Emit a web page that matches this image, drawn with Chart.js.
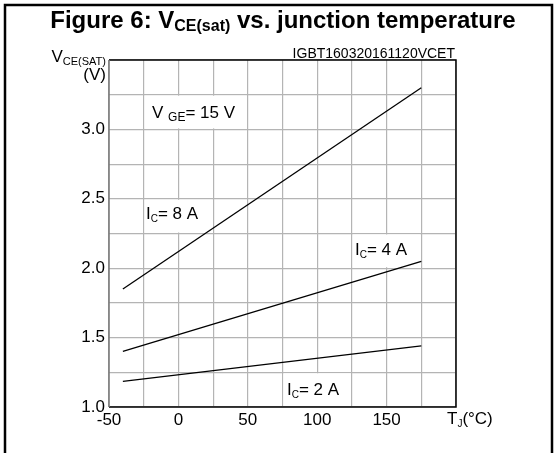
<!DOCTYPE html>
<html>
<head>
<meta charset="utf-8">
<script src="https://cdn.jsdelivr.net/npm/chart.js@4.4.1/dist/chart.umd.min.js"></script>
<style>
html,body{margin:0;padding:0;background:#fff;}
canvas{display:block;}
</style>
</head>
<body>
<canvas id="c" width="555" height="453"></canvas>
<script>
// Data
const tempC = [-40, 175];
const vceIc8A = [1.85, 3.30];
const vceIc4A = [1.40, 2.05];
const vceIc2A = [1.185, 1.44];
const xTickLabels = [-50, 0, 50, 100, 150];
const yTickLabels = [1.0, 1.5, 2.0, 2.5, 3.0];

const FONT = '"Liberation Sans", Arial, sans-serif';

function toPts(xs, ys){ return xs.map((x,i)=>({x:x, y:ys[i]})); }

function drawRich(ctx, x, y, parts, align){
  let w = 0;
  parts.forEach(p=>{ ctx.font = (p.bold?'bold ':'') + p.size + 'px ' + FONT; p.w = ctx.measureText(p.t).width; w += p.w; });
  let cx = align === 'right' ? x - w : (align === 'center' ? x - w/2 : x);
  ctx.textBaseline = 'alphabetic';
  ctx.textAlign = 'left';
  parts.forEach(p=>{
    ctx.font = (p.bold?'bold ':'') + p.size + 'px ' + FONT;
    ctx.fillText(p.t, cx, y + (p.dy||0));
    cx += p.w;
  });
}

const deco = {
  id: 'deco',
  beforeDraw(chart){
    const ctx = chart.ctx;
    ctx.save();
    ctx.fillStyle = '#fff';
    ctx.fillRect(0,0,chart.width,chart.height);
    ctx.restore();
  },
  beforeDatasetsDraw(chart){
    const ctx = chart.ctx, xs = chart.scales.x, ys = chart.scales.y;
    ctx.save();
    ctx.fillStyle = '#fff';
    const cells = [[-25,50,3.0,3.25],[-25,25,2.25,2.5],[125,175,2.0,2.25],[75,125,1.0,1.25]];
    cells.forEach(c=>{
      const x1 = xs.getPixelForValue(c[0]), x2 = xs.getPixelForValue(c[1]);
      const y1 = ys.getPixelForValue(c[3]), y2 = ys.getPixelForValue(c[2]);
      ctx.fillRect(x1+1, y1+1, x2-x1-2, y2-y1-2);
    });
    ctx.restore();
  },
  afterDraw(chart){
    const ctx = chart.ctx, a = chart.chartArea;
    ctx.save();
    // plot frame
    ctx.strokeStyle = '#000';
    ctx.lineWidth = 1.5;
    ctx.beginPath();
    ctx.moveTo(a.left, a.top); ctx.lineTo(a.right, a.top); ctx.lineTo(a.right, a.bottom); ctx.lineTo(a.left, a.bottom);
    ctx.stroke();
    ctx.strokeStyle = '#777';
    ctx.beginPath(); ctx.moveTo(a.left, a.top); ctx.lineTo(a.left, a.bottom); ctx.stroke();
    // outer frame
    ctx.strokeStyle = '#000';
    ctx.lineWidth = 2.5;
    ctx.beginPath();
    ctx.moveTo(5, 460); ctx.lineTo(5, 5); ctx.lineTo(552, 5); ctx.lineTo(552, 460);
    ctx.stroke();

    ctx.fillStyle = '#000';
    // title
    drawRich(ctx, 283, 28, [
      {t:'Figure 6: V', size:24, bold:true},
      {t:'CE(sat)', size:16, bold:true, dy:3},
      {t:' vs. junction temperature', size:24, bold:true}
    ], 'center');
    // figure id
    drawRich(ctx, 455, 58, [{t:'IGBT160320161120VCET', size:14}], 'right');
    // y axis title
    drawRich(ctx, 106, 62, [
      {t:'V', size:17},
      {t:'CE(SAT)', size:11, dy:3}
    ], 'right');
    drawRich(ctx, 106, 80, [{t:'(V)', size:17}], 'right');
    // x axis title
    drawRich(ctx, 447, 424, [
      {t:'T', size:17},
      {t:'J', size:10, dy:3},
      {t:'(°C)', size:17}
    ], 'left');
    // annotations
    drawRich(ctx, 152, 118, [
      {t:'V ', size:17},
      {t:'GE', size:12, dy:3},
      {t:'= 15 V', size:17}
    ], 'left');
    const ic = (x, y, v) => drawRich(ctx, x, y, [
      {t:'I', size:17},
      {t:'C', size:10, dy:3},
      {t:'= ' + v + ' A', size:17}
    ], 'left');
    ic(146, 219, 8);
    ic(355, 255, 4);
    ic(287, 395, 2);
    ctx.restore();
  }
};

const lineStyle = {borderColor:'#000', borderWidth:1.3, pointRadius:0, fill:false, tension:0, showLine:true};

new Chart(document.getElementById('c'), {
  type: 'scatter',
  data: {
    datasets: [
      Object.assign({label:'IC = 8 A', data: toPts(tempC, vceIc8A)}, lineStyle),
      Object.assign({label:'IC = 4 A', data: toPts(tempC, vceIc4A)}, lineStyle),
      Object.assign({label:'IC = 2 A', data: toPts(tempC, vceIc2A)}, lineStyle)
    ]
  },
  options: {
    responsive: false,
    devicePixelRatio: 1,
    animation: false,
    layout: {padding: {top: 60, right: 99, left: 0, bottom: 0}},
    plugins: {legend: {display:false}, tooltip: {enabled:false}, title: {display:false}},
    scales: {
      x: {
        type: 'linear', min: -50, max: 200,
        border: {display:false},
        grid: {color:'#b4b4b4', lineWidth:1.2, drawTicks:false},
        ticks: {
          stepSize: 25, autoSkip: false, maxRotation: 0, padding: 3,
          color: '#000', font: {family: FONT, size: 17},
          callback: v => xTickLabels.includes(v) ? String(v) : ''
        },
        afterFit: s => { s.height = 46; }
      },
      y: {
        type: 'linear', min: 1, max: 3.5,
        border: {display:false},
        grid: {color:'#b4b4b4', lineWidth:1.2, drawTicks:false},
        ticks: {
          stepSize: 0.25, autoSkip: false, padding: 4,
          color: '#000', font: {family: FONT, size: 17},
          callback: v => yTickLabels.some(t => Math.abs(t - v) < 1e-9) ? v.toFixed(1) : ''
        },
        afterFit: s => { s.width = 109; }
      }
    }
  },
  plugins: [deco]
});
</script>
</body>
</html>
